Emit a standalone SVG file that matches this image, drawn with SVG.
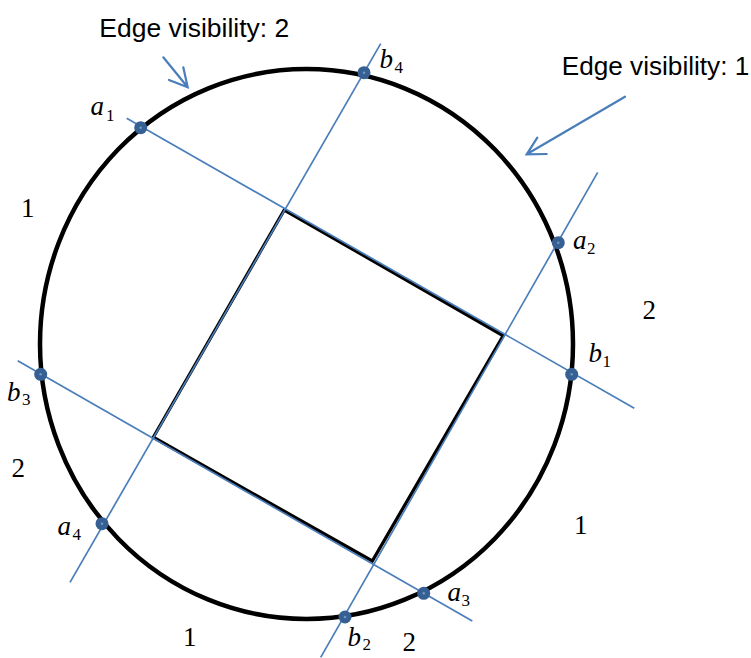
<svg xmlns="http://www.w3.org/2000/svg" width="751" height="658" viewBox="0 0 751 658">
<style>
.ln{stroke:#4a7ebb;stroke-width:1.7;fill:none}
.arr{stroke:#4a7ebb;stroke-width:2.2;fill:none;stroke-linecap:round}
.dot{fill:#365f93}
.dc{fill:#6f95c4}
.lab{font-family:"Liberation Sans",Arial,sans-serif;font-size:25px;fill:#000}
.num{font-family:"Liberation Serif","Times New Roman",serif;font-size:27px;fill:#000}
.m{font-family:"Liberation Serif","Times New Roman",serif;font-style:italic;font-size:27px;fill:#000}
.s{font-family:"Liberation Serif","Times New Roman",serif;font-size:17px;fill:#000}
</style>
<rect width="751" height="658" fill="#fff"/>
<g id="circle"><ellipse cx="306.5" cy="344" rx="266.5" ry="275" fill="none" stroke="#000" stroke-width="4.5"/></g>
<g id="square"><polygon points="284.3,210 503.3,335.7 372.3,561 153.3,437.3" fill="none" stroke="#000" stroke-width="3.3"/></g>
<g id="connectors">
<line class="ln" x1="126.7" y1="118.3" x2="634.3" y2="408.3"/>
<line class="ln" x1="380.7" y1="43.7" x2="70" y2="582.3"/>
<line class="ln" x1="597.7" y1="172.3" x2="320.7" y2="657.3"/>
<line class="ln" x1="17.7" y1="360.7" x2="472.3" y2="621"/>
<path class="arr" d="M163.3,57.3 L187.7,87.3 M169,80 L187.7,87.3 L183.3,67.3"/>
<path class="arr" d="M625,96.7 L526.7,154.3 M546.7,154 L526.7,154.3 L537.3,137.7"/>
</g>
<g id="points">
<g id="a1"><circle class="dot" cx="140.7" cy="127.7" r="6.5"/><circle class="dc" cx="140.7" cy="127.7" r="1.3"/><text class="m" x="90.5" y="115">a</text><text class="s" x="106" y="120.5">1</text></g>
<g id="b4"><circle class="dot" cx="364" cy="72.7" r="6.5"/><circle class="dc" cx="364" cy="72.7" r="1.3"/><text class="m" x="379.5" y="68.3">b</text><text class="s" x="394.5" y="72.5">4</text></g>
<g id="a2"><circle class="dot" cx="558.3" cy="242.7" r="6.5"/><circle class="dc" cx="558.3" cy="242.7" r="1.3"/><text class="m" x="573" y="249.3">a</text><text class="s" x="587" y="254">2</text></g>
<g id="b1"><circle class="dot" cx="571.7" cy="374.3" r="6.5"/><circle class="dc" cx="571.7" cy="374.3" r="1.3"/><text class="m" x="588.5" y="362.3">b</text><text class="s" x="602.5" y="367.3">1</text></g>
<g id="b3"><circle class="dot" cx="40.7" cy="374.3" r="6.5"/><circle class="dc" cx="40.7" cy="374.3" r="1.3"/><text class="m" x="7" y="400.7">b</text><text class="s" x="22" y="405">3</text></g>
<g id="a4"><circle class="dot" cx="102" cy="523.7" r="6.5"/><circle class="dc" cx="102" cy="523.7" r="1.3"/><text class="m" x="57.5" y="535">a</text><text class="s" x="72.5" y="540">4</text></g>
<g id="a3"><circle class="dot" cx="423.7" cy="593.3" r="6.5"/><circle class="dc" cx="423.7" cy="593.3" r="1.3"/><text class="m" x="447.5" y="600.7">a</text><text class="s" x="461.5" y="605.7">3</text></g>
<g id="b2"><circle class="dot" cx="345" cy="617" r="6.5"/><circle class="dc" cx="345" cy="617" r="1.3"/><text class="m" x="347.5" y="646">b</text><text class="s" x="362.5" y="650">2</text></g>
</g>
<g id="labels">
<text class="lab" x="99.3" y="36.7" textLength="190" lengthAdjust="spacingAndGlyphs">Edge visibility: 2</text>
<text class="lab" x="561.7" y="75" textLength="187.6" lengthAdjust="spacingAndGlyphs">Edge visibility: 1</text>
<text class="num" x="21" y="216.7">1</text>
<text class="num" x="642.5" y="319">2</text>
<text class="num" x="11.5" y="476.7">2</text>
<text class="num" x="574" y="534">1</text>
<text class="num" x="183" y="646">1</text>
<text class="num" x="402.5" y="651">2</text>
</g>
</svg>
